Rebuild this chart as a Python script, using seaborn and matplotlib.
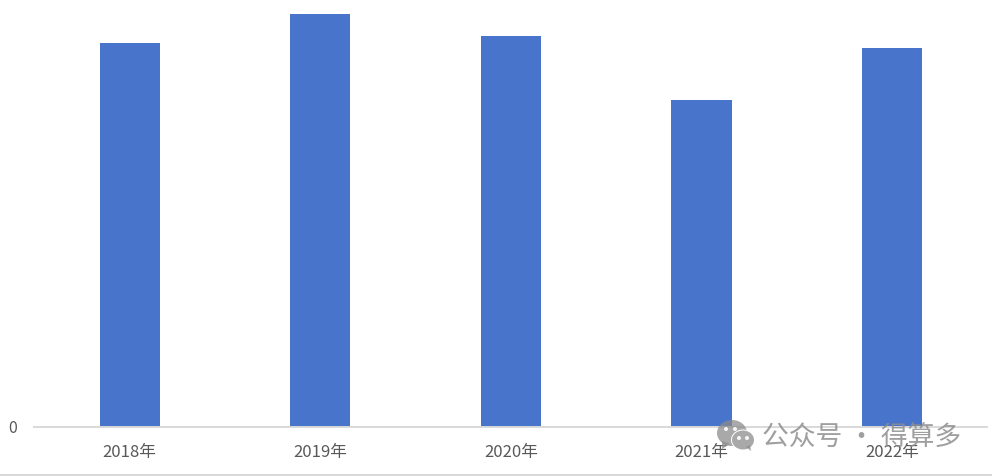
# -*- coding: utf-8 -*-
import matplotlib
matplotlib.use('Agg')
import matplotlib.pyplot as plt
from matplotlib.patches import Ellipse, Polygon, Rectangle
import pandas as pd
import seaborn as sns

years = ['2018年', '2019年', '2020年', '2021年', '2022年']
# no value axis in the picture, so these are relative heights
values = [383.5, 412.5, 390.5, 326.5, 378.5]
zero_label = '0'
watermark = '公众号 · 得算多'

W, H = 992, 476
BLUE = '#4874cb'
GREY_TXT = '#595959'
GREY_LINE = '#d9d9d9'

sns.set_theme(style='white')
plt.rcParams['font.family'] = ['Noto Sans CJK SC', 'DejaVu Sans']

df = pd.DataFrame({'year': years, 'value': values})

fig = plt.figure(figsize=(W / 100, H / 100), dpi=100)
ax = fig.add_axes([34.4 / W, (H - 426.5) / H, 953 / W, 426.5 / H])
sns.barplot(data=df, x='year', y='value', color=BLUE, saturation=1, width=0.315,
            linewidth=0, ax=ax)
ax.set_xlim(-0.5, 4.5)
ax.set_ylim(0, 426.5)
ax.set_xlabel('')
ax.set_ylabel('')
ax.set_yticks([0])
ax.set_yticklabels([zero_label], fontsize=11.5, color=GREY_TXT)
ax.tick_params(axis='x', length=0, pad=12.5, labelsize=12, labelcolor=GREY_TXT)
ax.tick_params(axis='y', length=0, pad=12.5)
sns.despine(ax=ax, left=True)
ax.spines['bottom'].set_color(GREY_LINE)
ax.spines['bottom'].set_linewidth(1.4)
ax.patch.set_alpha(0)

# overlay in pixel coords for the bottom rule and the watermark
ov = fig.add_axes([0, 0, 1, 1], zorder=5)
ov.set_xlim(0, W)
ov.set_ylim(H, 0)
ov.axis('off')
ov.add_patch(Rectangle((0, 474), W, 2, color=GREY_LINE, lw=0))

wm = '#8c8c8c'
ov.add_patch(Ellipse((732, 433), 30, 26, color=wm, alpha=0.75, lw=0))
ov.add_patch(Polygon([[722, 441], [722, 449], [730, 444]], color=wm, alpha=0.75, lw=0))
ov.add_patch(Ellipse((743, 440), 24, 21, color='white', lw=0))
ov.add_patch(Ellipse((743, 440), 22, 19, color=wm, alpha=0.75, lw=0))
ov.add_patch(Polygon([[746, 447], [751, 451], [750, 445]], color=wm, alpha=0.75, lw=0))
for ex, ey in [(726, 429), (735, 429), (739, 438), (747, 438)]:
    ov.add_patch(Ellipse((ex, ey), 4, 4, color='white', alpha=0.9, lw=0))
ov.text(862, 438, watermark, fontsize=19.3, color='#8e8e8e', alpha=0.85,
        ha='center', va='center', fontweight='medium')

fig.savefig('out.png', dpi=100)
